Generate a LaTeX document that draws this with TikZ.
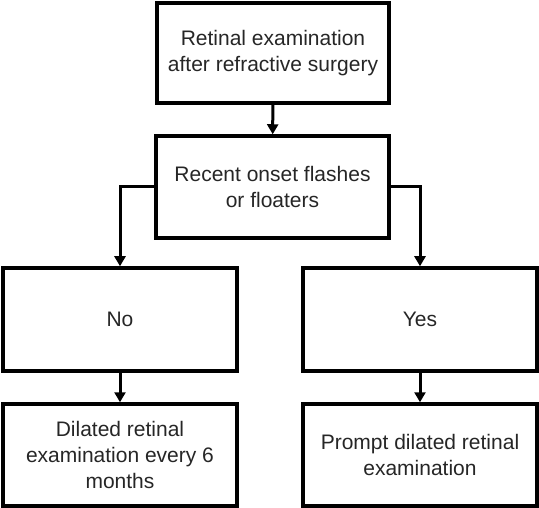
\documentclass[tikz,border=0pt]{standalone}
\usepackage{fontspec}
\setmainfont{Liberation Sans}
\usetikzlibrary{arrows.meta}
\begin{document}
\begin{tikzpicture}[x=1pt,y=-1pt,
  box/.style={draw=black, line width=3.5pt, rectangle, align=center, inner sep=0pt,
    font=\fontsize{21}{25.6}\selectfont, text=black!85},
  conn/.style={line width=3pt, -{Triangle[width=11pt,length=10pt]}}]
\useasboundingbox (0,0) rectangle (539,508);
\node[box, minimum width=232pt, minimum height=100pt] (top) at (273,53) {Retinal examination\\after refractive surgery};
\node[box, minimum width=233pt, minimum height=102pt] (mid) at (272.5,187) {Recent onset flashes\\or floaters};
\node[box, minimum width=234pt, minimum height=103pt] (no) at (120,319.5) {No};
\node[box, minimum width=234pt, minimum height=103pt] (yes) at (420,319.5) {Yes};
\node[box, minimum width=234pt, minimum height=102pt] (dil) at (120,455) {Dilated retinal\\examination every 6\\months};
\node[box, minimum width=234pt, minimum height=102pt] (prompt) at (420,455) {Prompt dilated retinal\\examination};
\draw[conn] (top) -- (mid);
\draw[conn] (mid.west) -| (no.north);
\draw[conn] (mid.east) -| (yes.north);
\draw[conn] (no) -- (dil);
\draw[conn] (yes) -- (prompt);
\end{tikzpicture}
\end{document}
